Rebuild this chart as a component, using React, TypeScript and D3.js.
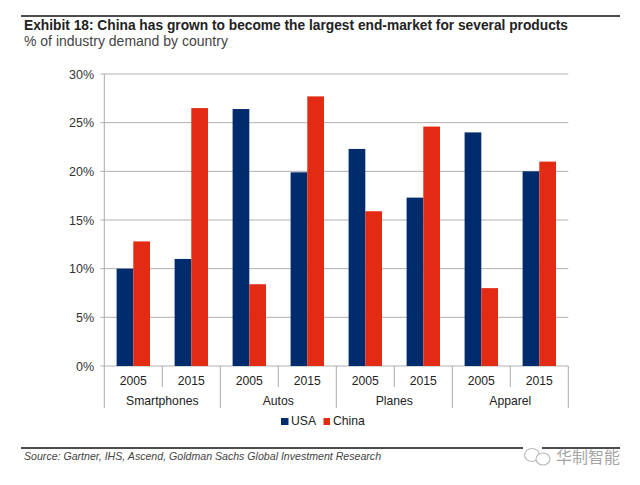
import React from "react";
import * as d3 from "d3";

const groups = ["Smartphones", "Autos", "Planes", "Apparel"];
const years = ["2005", "2015"];
const usa = [10, 11, 26.4, 19.9, 22.3, 17.3, 24, 20];
const china = [12.8, 26.5, 8.4, 27.7, 15.9, 24.6, 8, 21];
const yTicks = [0, 5, 10, 15, 20, 25, 30];
const navy = "#002c6e";
const red = "#e32b13";
const font = "Arial, 'Liberation Sans', sans-serif";

export default function App() {
  const indices = d3.range(usa.length);
  const x = d3.scaleBand<number>().domain(indices).range([104.3, 568.3]).paddingInner(0).paddingOuter(0);
  const y = d3.scaleLinear().domain([0, 30]).range([366, 74]);
  const bw = x.bandwidth();
  const barW = 16.7;
  return (
    <svg width={640} height={485} style={{ position: "absolute", left: 0, top: 0, background: "#fff" }} fontFamily={font}>
      <line x1={21} x2={620} y1={16} y2={16} stroke="#111" strokeWidth={1.3} />
      <text x={24} y={29.5} fontSize={13.75} fontWeight={700} fill="#222">Exhibit 18: China has grown to become the largest end-market for several products</text>
      <text x={24} y={45.5} fontSize={14} fill="#444">% of industry demand by country</text>

      {yTicks.map((t) => (
        <g key={t}>
          <line x1={100.5} x2={568.3} y1={y(t)} y2={y(t)} stroke="#b0b0b0" strokeWidth={1} />
          <text x={94} y={y(t) + 4.5} textAnchor="end" fontSize={12.5} fill="#333">{t}%</text>
        </g>
      ))}
      <line x1={104.3} x2={104.3} y1={74} y2={408} stroke="#aaa" />

      {indices.map((i) => {
        const cx = x(i)! + bw / 2;
        return (
          <g key={i}>
            <rect x={cx - barW} width={barW} y={y(usa[i])} height={y(0) - y(usa[i])} fill={navy} />
            <rect x={cx} width={barW} y={y(china[i])} height={y(0) - y(china[i])} fill={red} />
            <text x={cx} y={385} textAnchor="middle" fontSize={12.2} fill="#222">{years[i % 2]}</text>
            {i % 2 === 1 && <line x1={x(i)!} x2={x(i)!} y1={366} y2={387} stroke="#aaa" />}
          </g>
        );
      })}
      {groups.map((g, k) => {
        const left = x(k * 2)!;
        return (
          <g key={g}>
            <text x={left + bw} y={405} textAnchor="middle" fontSize={12.2} fill="#222">{g}</text>
            <line x1={left + 2 * bw} x2={left + 2 * bw} y1={366} y2={408} stroke="#aaa" />
          </g>
        );
      })}

      <rect x={281} y={418} width={7.5} height={7} fill={navy} />
      <text x={291} y={425} fontSize={12.2} fill="#222">USA</text>
      <rect x={323.5} y={418} width={6.5} height={7} fill={red} />
      <text x={333} y={425} fontSize={12.2} fill="#222">China</text>

      <line x1={21} x2={620} y1={448} y2={448} stroke="#111" strokeWidth={1.3} />
      <text x={24} y={460} fontSize={10.6} fontStyle="italic" fill="#444">Source: Gartner, IHS, Ascend, Goldman Sachs Global Investment Research</text>

      <rect x={523} y={445} width={19} height={6} fill="#fff" />
      <g fill="#fff" stroke="#bbb" strokeWidth={1.2}>
        <ellipse cx={532} cy={455} rx={7.5} ry={6.5} />
        <ellipse cx={543} cy={459} rx={7} ry={6} />
      </g>
      <text x={556} y={463} fontSize={16} fill="#a5a5a5" fontFamily="'Noto Sans CJK SC', sans-serif">华制智能</text>
    </svg>
  );
}
